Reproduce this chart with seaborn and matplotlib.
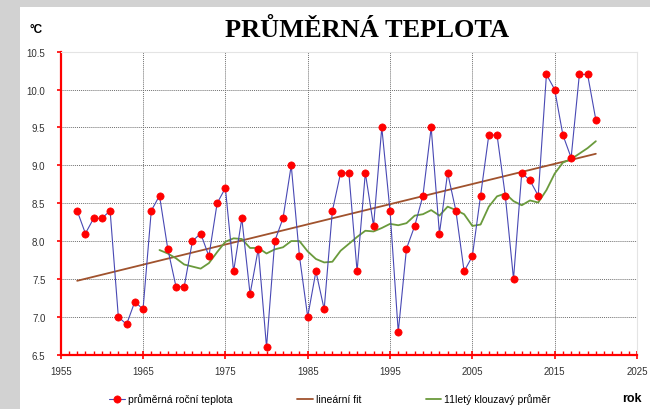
import numpy as np
import pandas as pd
import matplotlib
matplotlib.use("Agg")
import matplotlib.pyplot as plt
from matplotlib.patches import Rectangle
from matplotlib.ticker import MultipleLocator
import seaborn as sns

## Data
years = list(range(1957, 2021))
teplota = [8.4, 8.1, 8.3, 8.3, 8.4, 7.0, 6.9, 7.2, 7.1, 8.4,
           8.6, 7.9, 7.4, 7.4, 8.0, 8.1, 7.8, 8.5, 8.7, 7.6,
           8.3, 7.3, 7.9, 6.6, 8.0, 8.3, 9.0, 7.8, 7.0, 7.6,
           7.1, 8.4, 8.9, 8.9, 7.6, 8.9, 8.2, 9.5, 8.4, 6.8,
           7.9, 8.2, 8.6, 9.5, 8.1, 8.9, 8.4, 7.6, 7.8, 8.6,
           9.4, 9.4, 8.6, 7.5, 8.9, 8.8, 8.6, 10.2, 10.0, 9.4,
           9.1, 10.2, 10.2, 9.6]
x_ticks = [1955, 1965, 1975, 1985, 1995, 2005, 2015, 2025]
y_ticks = [6.5, 7.0, 7.5, 8.0, 8.5, 9.0, 9.5, 10.0, 10.5]
labels = ["průměrná roční teplota", "lineární fit", "11letý klouzavý průměr"]

df = pd.DataFrame({"rok": years, "teplota": teplota})
# linear fit and trailing 11-year moving average
coef = np.polyfit(df["rok"], df["teplota"], 1)
df["fit"] = np.polyval(coef, df["rok"])
df["klouzavy"] = df["teplota"].rolling(11).mean()

sns.set_style("white")
plt.rcParams["font.family"] = ["Liberation Sans", "DejaVu Sans"]
plt.rcParams["text.color"] = "black"

fig = plt.figure(figsize=(6.5, 4.1), dpi=100, facecolor="#d2d2d2")
fig.patches.append(Rectangle((20 / 650, 0), 1, 402 / 410, transform=fig.transFigure,
                             facecolor="white", edgecolor="none", zorder=-5))
ax = fig.add_axes([0.0934, 0.1324, 0.8866, 0.7391])
ax.set_facecolor("white")

sns.lineplot(data=df, x="rok", y="teplota", ax=ax, color="#4848b4", linewidth=0.8,
             marker="o", markersize=5.2, markerfacecolor="#ff0000",
             markeredgecolor="#ff0000", markeredgewidth=0.5, label=labels[0], zorder=4)
sns.lineplot(data=df, x="rok", y="fit", ax=ax, color="#a0522d", linewidth=1.3,
             label=labels[1], zorder=3)
sns.lineplot(data=df.dropna(), x="rok", y="klouzavy", ax=ax, color="#6a9a3c",
             linewidth=1.3, label=labels[2], zorder=3)

ax.set_xlim(1955, 2025)
ax.set_ylim(6.5, 10.5)
ax.set_xticks(x_ticks)
ax.set_yticks(y_ticks)
ax.set_yticklabels([f"{v:.1f}" for v in y_ticks])
ax.xaxis.set_minor_locator(MultipleLocator(1))
ax.set_xlabel("")
ax.set_ylabel("")

ax.grid(True, which="major", color="#707070", linestyle=(0, (1, 1)), linewidth=0.7)
ax.tick_params(axis="both", which="major", labelsize=7, labelcolor="#333333")
ax.tick_params(axis="x", which="major", direction="inout", length=6, color="red",
               width=1.2, pad=5, bottom=True)
ax.tick_params(axis="x", which="minor", direction="in", length=3, color="red",
               width=1.0, bottom=True)
ax.tick_params(axis="y", which="major", direction="out", length=3, color="red",
               width=1.2, pad=8, left=True)

for side in ["left", "bottom"]:
    ax.spines[side].set_color("red")
    ax.spines[side].set_linewidth(1.6)
for side in ["top", "right"]:
    ax.spines[side].set_color("#e4e4e4")
    ax.spines[side].set_linewidth(0.8)

ax.legend(loc="center", bbox_to_anchor=(330 / 650, 1 - 400 / 410),
          bbox_transform=fig.transFigure, ncol=3, frameon=False, fontsize=7.5,
          handlelength=1.5, handletextpad=0.3, columnspacing=6.2)

fig.text(367 / 650, 1 - 30 / 410, "PRŮMĚRNÁ TEPLOTA", ha="center", va="center",
         fontsize=19, fontweight="bold", family="Liberation Serif")
fig.text(30 / 650, 1 - 30 / 410, "°C", ha="left", va="center", fontsize=8.5,
         fontweight="bold")
fig.text(632 / 650, 1 - 399 / 410, "rok", ha="center", va="center", fontsize=9,
         fontweight="bold")

fig.savefig("out.png", dpi=100, facecolor=fig.get_facecolor())
